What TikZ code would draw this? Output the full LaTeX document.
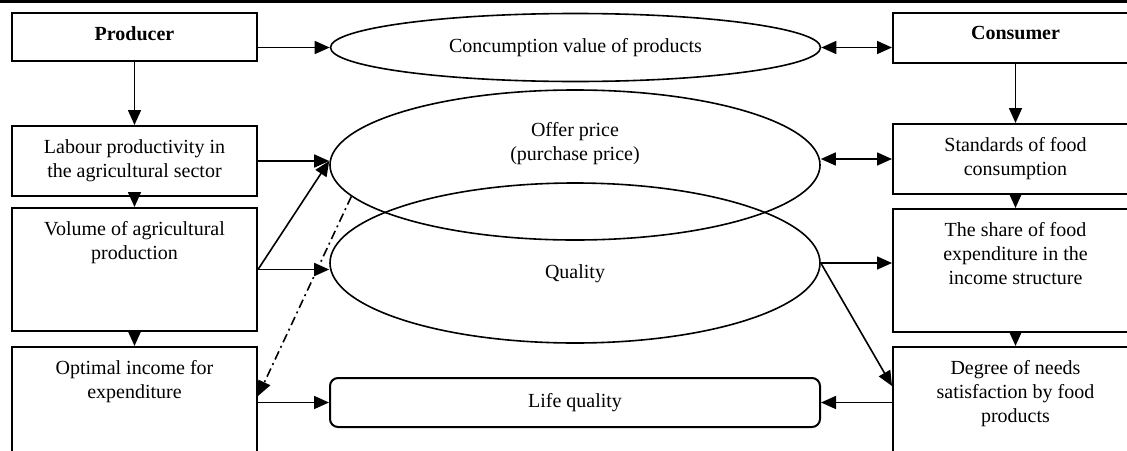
\documentclass[tikz,border=0pt]{standalone}
\usepackage{fontspec}
\setmainfont{Liberation Serif}
\usetikzlibrary{arrows.meta,shapes.geometric}

\begin{document}
\begin{tikzpicture}[x=1pt, y=-1pt, font=\fontsize{20}{24}\selectfont,
    box/.style={draw, line width=2pt, minimum width=245pt, inner sep=0pt},
    oval/.style={draw, ellipse, line width=1.6pt, minimum width=490pt, inner sep=0pt},
    txt/.style={anchor=north, yshift=-14pt, inner sep=0pt, align=center},
    arr/.style={line width=1.6pt, -{Triangle[length=15pt,width=13pt]}},
    twoway/.style={line width=1.6pt, {Triangle[length=15pt,width=13pt]}-{Triangle[length=15pt,width=13pt]}}]
  \useasboundingbox (0,0) rectangle (1127,450);
  \draw[line width=2.8pt] (0,1.4) -- (1127,1.4);

  % producer side
  \node[box, minimum height=48pt, label={[txt]north:\bfseries Producer}] (prod) at (134.5,37) {};
  \node[box, minimum height=70pt, label={[txt]north:Labour productivity in\\the agricultural sector}] (labour) at (134.5,161) {};
  \node[box, minimum height=123pt, label={[txt]north:Volume of agricultural\\production}] (vol) at (134.5,269.5) {};
  \node[box, minimum height=123pt, label={[txt]north:Optimal income for\\expenditure}] (income) at (134.5,408.5) {};

  % consumer side
  \node[box, minimum height=50pt, label={[txt]north:\bfseries Consumer}] (cons) at (1015.5,38) {};
  \node[box, minimum height=70pt, label={[txt]north:Standards of food\\consumption}] (stand) at (1015.5,159) {};
  \node[box, minimum height=123pt, label={[txt]north:The share of food\\expenditure in the\\income structure}] (share) at (1015.5,270.5) {};
  \node[box, minimum height=123pt, label={[txt]north:Degree of needs\\satisfaction by food\\products}] (degree) at (1015.5,408.5) {};

  % middle
  \node[oval, minimum height=68pt] (value) at (575.5,47.5) {Concumption value of products};
  \node[oval, minimum height=150pt, label={[inner sep=0pt, align=center, yshift=21pt]center:Offer price\\(purchase price)}] (offer) at (575,165) {};
  \node[oval, minimum height=160pt, label={[inner sep=0pt, yshift=-10.5pt]center:Quality}] (quality) at (575,263) {};
  \node[draw, line width=2pt, rounded corners=8pt, minimum width=490pt, minimum height=49pt, inner sep=0pt] (life) at (575,402.5) {Life quality};

  \foreach \a/\b in {prod/labour, labour/vol, vol/income, cons/stand, stand/share, share/degree}
    \draw[arr] (\a.south) -- (\b.north);

  \draw[arr] (value.west -| prod.east) -- (value.west);
  \draw[twoway] (value.east) -- (value.east -| cons.west);
  \draw[arr] (labour.east) -- (labour.east -| offer.west);
  \draw[arr] (vol.east) -- (labour.east -| offer.west);
  \draw[arr] (vol.east) -- (vol.east -| quality.west);
  \draw[twoway] (stand.west -| offer.east) -- (stand.west);
  \draw[arr] (quality.east) -- (quality.east -| share.west);
  \draw[arr] (quality.east) -- ([yshift=-40pt]degree.north west);
  \draw[arr] (degree.west |- life.east) -- (life.east);
  \draw[arr] (income.east |- life.west) -- (life.west);
  \draw[arr, dash pattern=on 9pt off 4pt on 2pt off 4pt] (offer.188) -- ([yshift=-50pt]income.north east);
\end{tikzpicture}
\end{document}
